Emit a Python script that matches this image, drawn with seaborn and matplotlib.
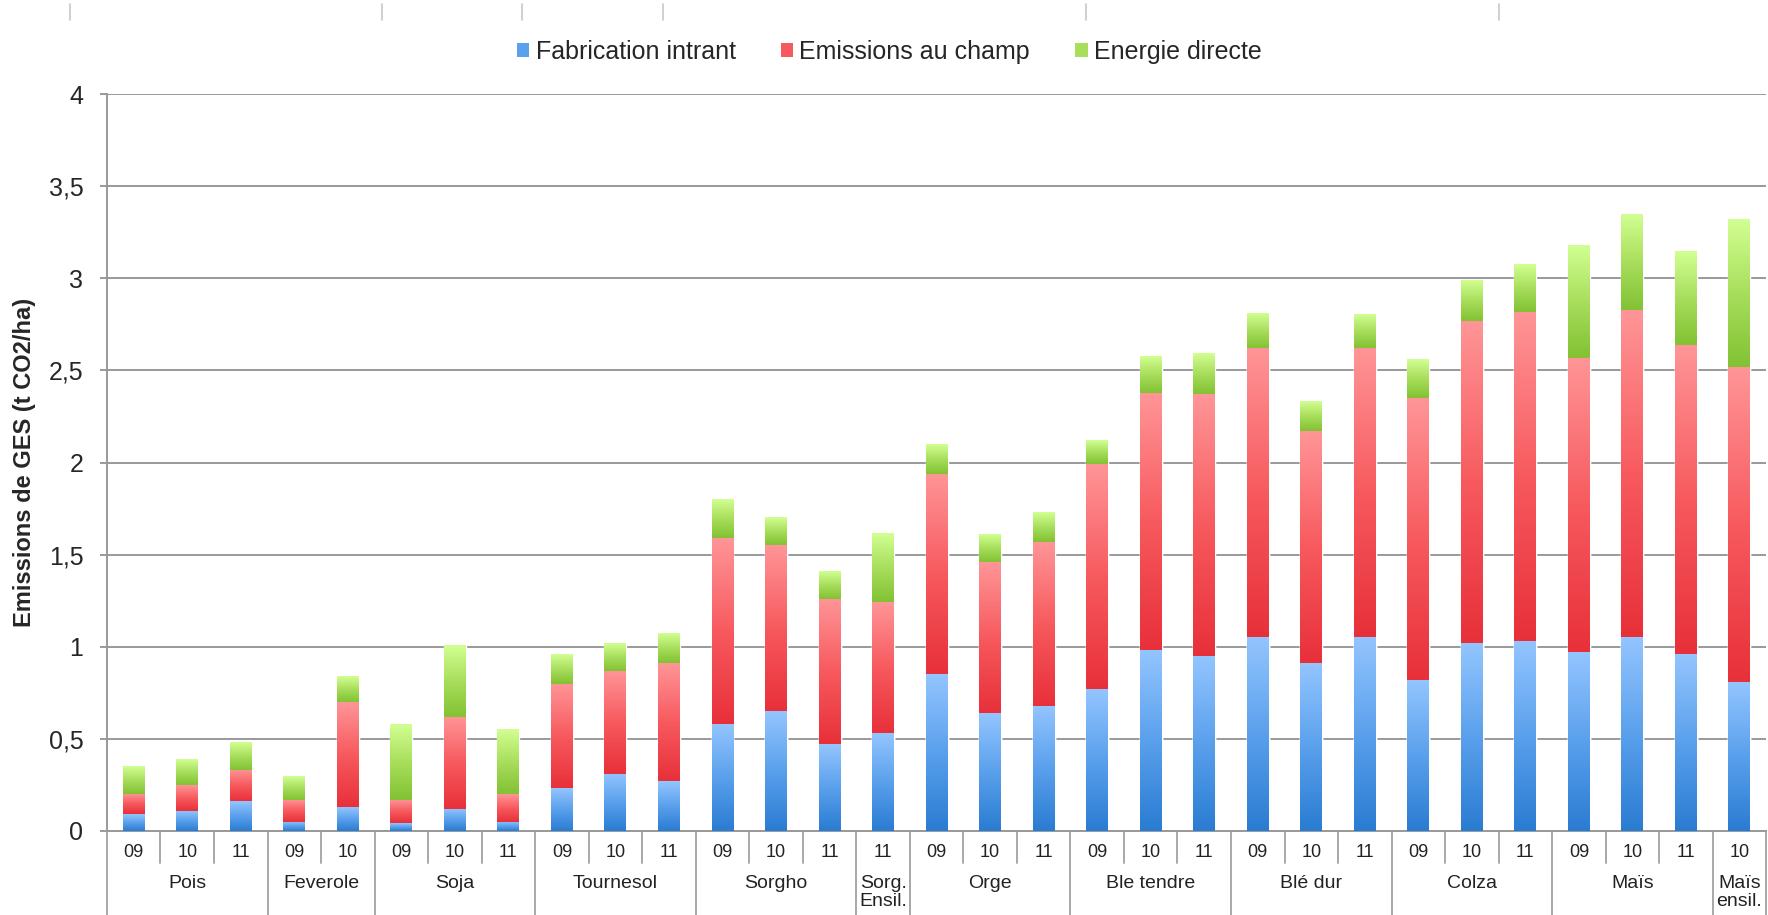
import numpy as np
import pandas as pd
import matplotlib
matplotlib.use("Agg")
import matplotlib.pyplot as plt
from matplotlib.colors import LinearSegmentedColormap
from matplotlib.patches import Patch
from matplotlib.lines import Line2D
import seaborn as sns

# === Data ===
groups = ["Pois", "Feverole", "Soja", "Tournesol", "Sorgho", "Sorg.\nEnsil.", "Orge",
          "Ble tendre", "Blé dur", "Colza", "Maïs", "Maïs\nensil."]
group_years = [["09", "10", "11"], ["09", "10"], ["09", "10", "11"], ["09", "10", "11"],
               ["09", "10", "11"], ["11"], ["09", "10", "11"], ["09", "10", "11"],
               ["09", "10", "11"], ["09", "10", "11"], ["09", "10", "11"], ["10"]]

fabrication = [0.09, 0.11, 0.16, 0.05, 0.13, 0.04, 0.12, 0.05, 0.23, 0.31, 0.27,
               0.58, 0.65, 0.47, 0.53, 0.85, 0.64, 0.68, 0.77, 0.98, 0.95,
               1.05, 0.91, 1.05, 0.82, 1.02, 1.03, 0.97, 1.05, 0.96, 0.81]
champ = [0.11, 0.14, 0.17, 0.12, 0.57, 0.13, 0.50, 0.15, 0.57, 0.56, 0.64,
         1.01, 0.90, 0.79, 0.71, 1.09, 0.82, 0.89, 1.22, 1.40, 1.42,
         1.57, 1.26, 1.57, 1.53, 1.75, 1.79, 1.60, 1.78, 1.68, 1.71]
energie = [0.15, 0.14, 0.15, 0.13, 0.14, 0.41, 0.39, 0.35, 0.16, 0.15, 0.16,
           0.21, 0.15, 0.15, 0.37, 0.16, 0.15, 0.16, 0.13, 0.20, 0.22,
           0.19, 0.16, 0.18, 0.21, 0.22, 0.26, 0.61, 0.52, 0.51, 0.80]

series_names = ["Fabrication intrant", "Emissions au champ", "Energie directe"]
# (top light, mid, bottom dark)
series_colors = [("#93c5ff", "#5aa0ec", "#2a7cd2"),
                 ("#ff9597", "#f75a5e", "#e8303a"),
                 ("#d2ff92", "#a8de5c", "#82c233")]

# === Build table ===
labels, years = [], []
for g, ys in zip(groups, group_years):
    for y in ys:
        labels.append(f"{g} {y}")
        years.append(y)
n = len(labels)
blue = np.array(fabrication)
red_top = blue + np.array(champ)
total = red_top + np.array(energie)
df = pd.DataFrame({"label": labels, "blue": blue, "red_top": red_top, "total": total})

# === Figure ===
sns.set_theme(style="white")
plt.rcParams["font.family"] = ["Liberation Sans", "DejaVu Sans"]
fig = plt.figure(figsize=(17.68, 9.15), dpi=100)
ax = fig.add_axes([0.0605, 0.092, 0.9385, 0.805])

bar_w = 0.41
for col, cols in zip(["total", "red_top", "blue"], series_colors[::-1]):
    sns.barplot(data=df, x="label", y=col, order=labels, color=cols[1],
                saturation=1, width=bar_w, ax=ax, zorder=2)

# gradient fill for each stacked segment
bottoms = [np.zeros(n), blue, red_top]
tops = [blue, red_top, total]
for k, cols in enumerate(series_colors):
    cmap = LinearSegmentedColormap.from_list(f"g{k}", [cols[2], cols[1], cols[0]])
    grad = np.linspace(0, 1, 128).reshape(-1, 1)
    for i in range(n):
        ax.imshow(grad, cmap=cmap, origin="lower", aspect="auto",
                  extent=(i - bar_w / 2, i + bar_w / 2, bottoms[k][i], tops[k][i]),
                  zorder=3, interpolation="bilinear")

ax.set_xlim(-0.5, n - 0.5)
ax.set_ylim(0, 4)
ax.set_yticks(np.arange(0, 4.01, 0.5))
ax.set_yticklabels(["0", "0,5", "1", "1,5", "2", "2,5", "3", "3,5", "4"], fontsize=18)
ax.yaxis.grid(True, color="#999999", lw=1.4, zorder=0)
ax.set_axisbelow(True)
ax.tick_params(axis="y", length=5, width=1.4, color="#999999", left=True, pad=12)
ax.set_xticks([])
ax.set_xlabel("")
ax.set_ylabel("Emissions de GES (t CO2/ha)", fontsize=17, fontweight="bold")
ax.yaxis.set_label_coords(-0.0425, 0.5)
for s in ["top", "right"]:
    ax.spines[s].set_visible(False)
for s in ["left", "bottom"]:
    ax.spines[s].set_color("#999999")
    ax.spines[s].set_linewidth(1.4)

# === Category table below the axis ===
trans = ax.get_xaxis_transform()
px = 1 / (0.805 * 915)
line_kw = dict(transform=trans, color="#a8a8a8", lw=1.4, clip_on=False)
pos = 0
ax.plot([-0.5, -0.5], [0, -90 * px], **line_kw)
for g, ys in zip(groups, group_years):
    for j, y in enumerate(ys):
        ax.text(pos + j, -22 * px, y, transform=trans, ha="center", va="center",
                fontsize=13, color="#222222")
        if j < len(ys) - 1:
            ax.plot([pos + j + 0.5] * 2, [0, -32 * px], **line_kw)
    end = pos + len(ys) - 0.5
    ax.plot([end, end], [0, -90 * px], **line_kw)
    ax.text(pos + (len(ys) - 1) / 2, -44 * px, g, transform=trans, ha="center", va="top",
            fontsize=14, color="#222222", linespacing=1.1)
    pos += len(ys)

# === Legend ===
handles = [Patch(facecolor=c[1], edgecolor="none") for c in series_colors]
fig.legend(handles, series_names, loc="center", bbox_to_anchor=(0.503, 0.943),
           ncol=3, frameon=False, fontsize=18, handlelength=0.5, handleheight=0.5,
           handletextpad=0.25, columnspacing=1.8)

# small marks at the top edge
for xp in [70, 382, 522, 663, 1086, 1499]:
    fig.add_artist(Line2D([xp / 1768] * 2, [1 - 4 / 915, 1 - 20 / 915],
                          color="#c8c8c8", lw=1.2))

fig.savefig("out.png", dpi=100)
print("Plot saved.")
